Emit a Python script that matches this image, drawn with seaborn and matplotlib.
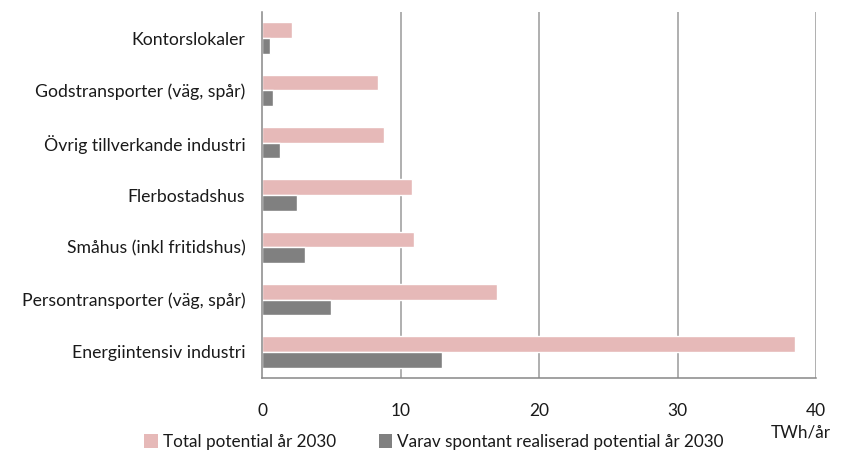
import matplotlib
matplotlib.use("Agg")
import matplotlib.pyplot as plt
import seaborn as sns
import pandas as pd
from matplotlib.patches import Patch

categories = ["Kontorslokaler", "Godstransporter (väg, spår)", "Övrig tillverkande industri",
              "Flerbostadshus", "Småhus (inkl fritidshus)", "Persontransporter (väg, spår)",
              "Energiintensiv industri"]
total = [2.2, 8.4, 8.8, 10.8, 11.0, 17.0, 38.5]
spontan = [0.6, 0.8, 1.3, 2.5, 3.1, 5.0, 13.0]
series = ["Total potential år 2030", "Varav spontant realiserad potential år 2030"]
xticks = [0, 10, 20, 30, 40]
unit = "TWh/år"

colors = ["#E6B9B8", "#808080"]

df = pd.DataFrame({
    "cat": categories * 2,
    "val": total + spontan,
    "ser": [series[0]] * len(categories) + [series[1]] * len(categories),
})

sns.set_theme(style="white")
plt.rcParams["font.family"] = ["Lato", "DejaVu Sans"]

fig = plt.figure(figsize=(8.41, 4.59), dpi=100)
ax = fig.add_axes([262/841, 1-378/459, (816-262)/841, (378-12)/459])

sns.barplot(data=df, y="cat", x="val", hue="ser", order=categories, hue_order=series,
            palette=colors, orient="h", width=0.6, ax=ax, legend=False, saturation=1)

ax.set_xlim(0, 40)
ax.set_ylim(len(categories) - 0.5, -0.5)
ax.set_xticks(xticks)
ax.set_xticklabels([str(t) for t in xticks], fontsize=12.5, color="#1a1a1a")
ax.set_yticks(range(len(categories)))
ax.set_yticklabels(categories, fontsize=12.7, color="#1a1a1a")
ax.set_yticks([i - 0.5 for i in range(len(categories) + 1)], minor=True)
ax.tick_params(axis="y", which="major", length=0, pad=12)
ax.tick_params(axis="y", which="minor", length=6, width=1, color="#888888", direction="out")
ax.tick_params(axis="x", length=6, width=1, color="#888888", direction="out", pad=12)
ax.set_xlabel("")
ax.set_ylabel("")

for x in xticks[1:]:
    ax.axvline(x, color="#9a9a9a", lw=1.1, zorder=0)

for s in ["top", "right"]:
    ax.spines[s].set_visible(False)
for s in ["left", "bottom"]:
    ax.spines[s].set_color("#888888")
    ax.spines[s].set_linewidth(1.1)

fig.text(831/841, 1-433/459, unit, ha="right", va="center", fontsize=12.3, color="#1a1a1a")

handles = [Patch(facecolor=c, edgecolor="none") for c in colors]
fig.legend(handles, series, loc="center", bbox_to_anchor=(434/841, 1-442/459), ncol=2,
           frameon=False, fontsize=12.3, handlelength=0.8, handleheight=0.9,
           handletextpad=0.3, columnspacing=2.5)
for t in fig.legends[0].get_texts():
    t.set_color("#1a1a1a")

fig.savefig("out.png", dpi=100)
